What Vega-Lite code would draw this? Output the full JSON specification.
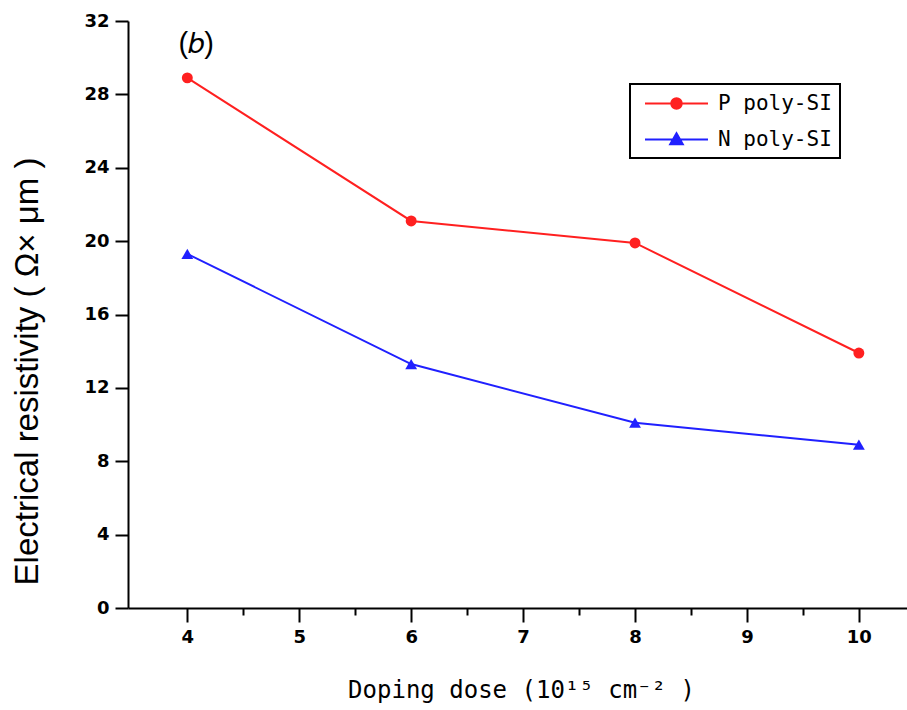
{
  "$schema": "https://vega.github.io/schema/vega-lite/v6.json",
  "width": 779,
  "height": 587,
  "autosize": {"type": "none"},
  "padding": {"left": 128, "top": 21, "right": 0, "bottom": 102},
  "background": "white",
  "config": {"view": {"stroke": null}},
  "datasets": {
    "series": [
      {"dose": 4, "resistivity": 28.9, "series": "P poly-SI"},
      {"dose": 6, "resistivity": 21.1, "series": "P poly-SI"},
      {"dose": 8, "resistivity": 19.9, "series": "P poly-SI"},
      {"dose": 10, "resistivity": 13.9, "series": "P poly-SI"},
      {"dose": 4, "resistivity": 19.3, "series": "N poly-SI"},
      {"dose": 6, "resistivity": 13.3, "series": "N poly-SI"},
      {"dose": 8, "resistivity": 10.1, "series": "N poly-SI"},
      {"dose": 10, "resistivity": 8.9, "series": "N poly-SI"}
    ],
    "panel": [{"dose": 4.08, "resistivity": 30.75, "label": "(𝑏)"}]
  },
  "layer": [
    {
      "data": {"name": "series"},
      "mark": {"type": "line", "strokeWidth": 2},
      "encoding": {
        "x": {
          "field": "dose", "type": "quantitative",
          "scale": {"domain": [3.47, 10.43], "nice": false, "zero": false},
          "axis": {
            "values": [4, 4.5, 5, 5.5, 6, 6.5, 7, 7.5, 8, 8.5, 9, 9.5, 10],
            "format": "~g",
            "labelExpr": "datum.value % 1 === 0 ? datum.label : ''",
            "grid": false,
            "domainColor": "black", "domainWidth": 2,
            "tickColor": "black", "tickWidth": 2,
            "tickSize": {"condition": {"test": "datum.value % 1 === 0", "value": 14}, "value": 7},
            "labelFont": "DejaVu Sans", "labelFontWeight": "bold", "labelFontSize": 18, "labelColor": "black",
            "labelPadding": 6,
            "title": "Doping dose (10¹⁵ cm⁻² )",
            "titleFont": "DejaVu Sans Mono", "titleFontWeight": "normal", "titleFontSize": 24, "titleColor": "black",
            "titleX": 393, "titleY": 82, "titleBaseline": "middle", "titleAlign": "center"
          }
        },
        "y": {
          "field": "resistivity", "type": "quantitative",
          "scale": {"domain": [0, 32], "nice": false},
          "axis": {
            "values": [0, 2, 4, 6, 8, 10, 12, 14, 16, 18, 20, 22, 24, 26, 28, 30, 32],
            "labelExpr": "datum.value % 4 === 0 ? datum.label : ''",
            "grid": false,
            "domainColor": "black", "domainWidth": 2,
            "tickColor": "black", "tickWidth": 2,
            "tickSize": {"condition": {"test": "datum.value % 4 === 0", "value": 13}, "value": 7},
            "labelFont": "DejaVu Sans", "labelFontWeight": "bold", "labelFontSize": 18, "labelColor": "black",
            "labelPadding": 6,
            "title": "Electrical resistivity ( Ω× μm )",
            "titleFont": "Liberation Sans", "titleFontWeight": "normal", "titleFontSize": 33, "titleColor": "black",
            "titleX": -101, "titleY": 350, "titleAngle": -90, "titleBaseline": "middle", "titleAlign": "center"
          }
        },
        "color": {
          "field": "series", "type": "nominal",
          "scale": {"domain": ["P poly-SI", "N poly-SI"], "range": ["#ff2020", "#2020ff"]},
          "legend": {
            "title": null,
            "orient": "none", "legendX": 502, "legendY": 63,
            "strokeColor": "black",
            "padding": 8,
            "symbolSize": 441,
            "symbolOffset": 27,
            "symbolStrokeWidth": 2,
            "labelOffset": 30,
            "rowPadding": 14,
            "labelFont": "DejaVu Sans Mono", "labelFontSize": 21, "labelColor": "black",
            "encode": {
              "legend": {"update": {"strokeWidth": {"value": 2}}},
              "symbols": {
                "update": {
                  "shape": {"signal": "datum.value === 'P poly-SI' ? 'M-3,0L3,0M0.5,0A0.5,0.5 0 1,1 -0.5,0A0.5,0.5 0 1,1 0.5,0Z' : 'M-3,0L3,0M0,-0.6L0.6,0.45L-0.6,0.45Z'"},
                  "fill": {"signal": "datum.value === 'P poly-SI' ? '#ff2020' : '#2020ff'"},
                  "stroke": {"signal": "datum.value === 'P poly-SI' ? '#ff2020' : '#2020ff'"},
                  "strokeWidth": {"value": 2},
                  "opacity": {"value": 1}
                }
              }
            }
          }
        }
      }
    },
    {
      "data": {"name": "series"},
      "transform": [{"filter": "datum.series === 'P poly-SI'"}],
      "mark": {"type": "point", "filled": true, "size": 120, "opacity": 1, "shape": "circle"},
      "encoding": {
        "x": {"field": "dose", "type": "quantitative"},
        "y": {"field": "resistivity", "type": "quantitative"},
        "color": {"field": "series", "type": "nominal"}
      }
    },
    {
      "data": {"name": "series"},
      "transform": [{"filter": "datum.series === 'N poly-SI'"}],
      "mark": {"type": "point", "filled": true, "size": 140, "opacity": 1, "shape": "triangle-up"},
      "encoding": {
        "x": {"field": "dose", "type": "quantitative"},
        "y": {"field": "resistivity", "type": "quantitative"},
        "color": {"field": "series", "type": "nominal"}
      }
    },
    {
      "data": {"name": "panel"},
      "mark": {"type": "text", "font": "Liberation Sans", "fontSize": 29, "color": "black", "align": "center", "baseline": "middle"},
      "encoding": {
        "x": {"field": "dose", "type": "quantitative"},
        "y": {"field": "resistivity", "type": "quantitative"},
        "text": {"field": "label"}
      }
    }
  ]
}
